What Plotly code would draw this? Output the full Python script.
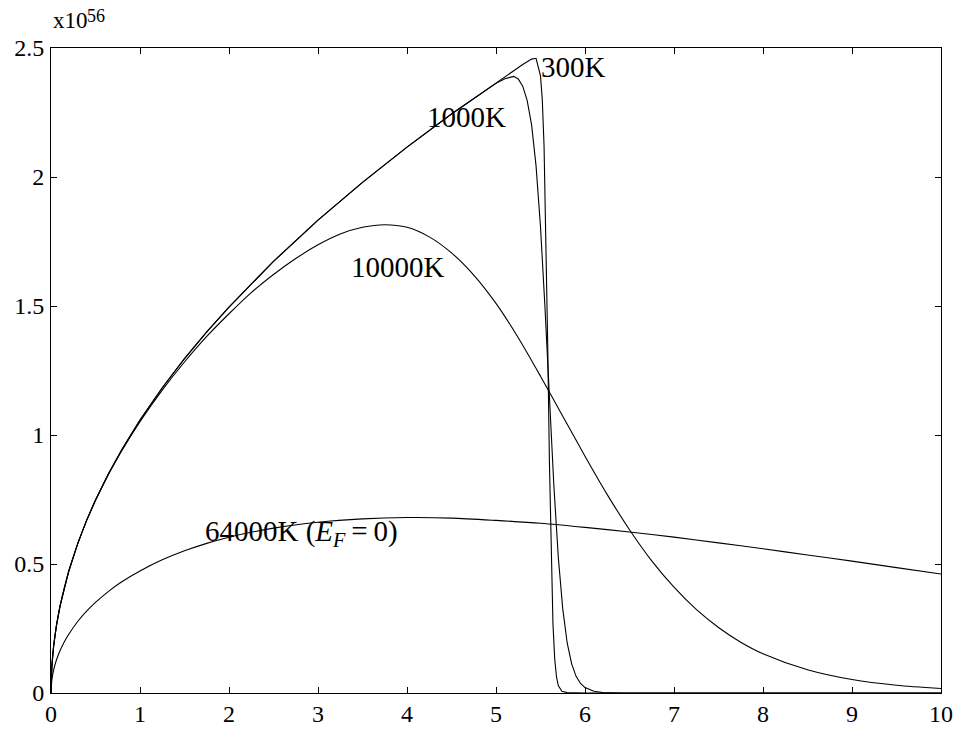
import plotly.graph_objects as go

# Energy samples (eV) for the smooth part of every curve
x_low = [0, 0.01, 0.03, 0.06, 0.1, 0.15, 0.2, 0.3, 0.4, 0.5, 0.65, 0.8,
         1.0, 1.25, 1.5, 1.75, 2.0, 2.5, 3.0, 3.5, 4.0, 4.5]
y_low = [0, 0.106, 0.183, 0.259, 0.335, 0.410, 0.473, 0.579, 0.669, 0.748, 0.853, 0.946,
         1.058, 1.183, 1.296, 1.400, 1.496, 1.673, 1.833, 1.979, 2.116, 2.244]

# 300 K
x_300 = x_low + [5.0, 5.3, 5.4, 5.45, 5.5, 5.52, 5.54, 5.56, 5.58, 5.60, 5.62,
                 5.64, 5.66, 5.68, 5.70, 5.74, 5.8, 6.0, 10.0]
y_300 = y_low + [2.366, 2.436, 2.457, 2.460, 2.392, 2.300, 2.119, 1.808, 1.370, 0.899, 0.515,
                 0.267, 0.131, 0.062, 0.029, 0.0063, 0.0015, 0.0, 0.0]

# 1000 K
x_1000 = x_low + [5.0, 5.1, 5.2, 5.25, 5.3, 5.35, 5.4, 5.45, 5.5, 5.55, 5.6, 5.65,
                  5.7, 5.75, 5.8, 5.85, 5.9, 5.95, 6.0, 6.1, 6.2, 6.4, 7.0, 10.0]
y_1000 = y_low + [2.363, 2.381, 2.390, 2.380, 2.352, 2.297, 2.202, 2.043, 1.807, 1.496, 1.143, 0.805,
                  0.526, 0.326, 0.194, 0.113, 0.0647, 0.0368, 0.0208, 0.0066, 0.0021, 0.0002, 0.0, 0.0]

# 10000 K
x_10000 = [0, 0.01, 0.03, 0.06, 0.1, 0.15, 0.2, 0.3, 0.4, 0.5, 0.65, 0.8,
           1.0, 1.25, 1.5, 1.75, 2.0, 2.25, 2.5, 2.75, 3.0, 3.25, 3.5, 3.75, 4.0, 4.25,
           4.5, 4.75, 5.0, 5.25, 5.5, 5.75, 6.0, 6.25, 6.5, 6.75, 7.0, 7.25, 7.5,
           7.75, 8.0, 8.5, 9.0, 9.5, 10.0]
y_10000 = [0, 0.106, 0.183, 0.258, 0.334, 0.409, 0.472, 0.578, 0.668, 0.746, 0.850, 0.942,
           1.052, 1.174, 1.283, 1.382, 1.470, 1.552, 1.622, 1.684, 1.737, 1.779, 1.805, 1.815, 1.805, 1.768,
           1.706, 1.620, 1.510, 1.377, 1.228, 1.073, 0.918, 0.769, 0.633, 0.512, 0.410, 0.324, 0.254,
           0.197, 0.152, 0.090, 0.052, 0.030, 0.0176]

# 64000 K (E_F = 0)
x_64000 = [0, 0.01, 0.03, 0.06, 0.1, 0.15, 0.2, 0.3, 0.4, 0.5, 0.65, 0.8,
           1.0, 1.25, 1.5, 1.75, 2.0, 2.5, 3.0, 3.5, 4.0, 4.5, 5.0, 5.5, 6.0,
           6.5, 7.0, 7.5, 8.0, 8.5, 9.0, 9.5, 10.0]
y_64000 = [0, 0.052, 0.090, 0.127, 0.163, 0.199, 0.228, 0.277, 0.317, 0.351, 0.395, 0.432,
           0.473, 0.516, 0.551, 0.580, 0.604, 0.639, 0.662, 0.675, 0.680, 0.678, 0.669, 0.658, 0.642,
           0.624, 0.604, 0.582, 0.559, 0.535, 0.511, 0.486, 0.461]

# (x, y, line shape) per temperature
curves = [(x_300, y_300, "linear"), (x_1000, y_1000, "linear"),
          (x_10000, y_10000, "spline"), (x_64000, y_64000, "spline")]

x_ticks = [0, 1, 2, 3, 4, 5, 6, 7, 8, 9, 10]
y_ticks = [0, 0.5, 1, 1.5, 2, 2.5]
y_tick_text = ["0", "0.5", "1", "1.5", "2", "2.5"]

curve_labels = ["300K", "1000K", "10000K",
                "64000K (<i>E</i><sub><i>F</i></sub>&#8201;=&#8201;0)"]
label_x = [5.87, 4.67, 3.90, 2.81]
label_y = [2.428, 2.234, 1.652, 0.621]

serif = "Liberation Serif, Times New Roman, Times, serif"

fig = go.Figure()
for xs, ys, shape in curves:
    fig.add_trace(go.Scatter(x=xs, y=ys, mode="lines",
                             line=dict(color="black", width=1.1, shape=shape, smoothing=0.8),
                             showlegend=False, hoverinfo="skip"))

for txt, lx, ly in zip(curve_labels, label_x, label_y):
    fig.add_annotation(x=lx, y=ly, xref="x", yref="y", text=txt, showarrow=False,
                       font=dict(family=serif, size=29, color="black"))

# axis multiplier, drawn above the top-left corner
fig.add_annotation(x=0, y=1, xref="paper", yref="paper", xanchor="left", yanchor="bottom",
                   xshift=0, yshift=13, text="x10", showarrow=False,
                   font=dict(family=serif, size=23, color="black"))
fig.add_annotation(x=0, y=1, xref="paper", yref="paper", xanchor="left", yanchor="bottom",
                   xshift=34, yshift=20, text="56", showarrow=False,
                   font=dict(family=serif, size=18, color="black"))

axis_common = dict(showgrid=False, zeroline=False, showline=True, linecolor="black",
                   linewidth=1, mirror="allticks", ticks="inside", ticklen=6,
                   tickcolor="black", tickwidth=1,
                   tickfont=dict(family=serif, size=24, color="black"))

fig.update_xaxes(range=[0, 10], tickvals=x_ticks, ticktext=[str(t) for t in x_ticks],
                 ticklabelstandoff=-1, **axis_common)
fig.update_yaxes(range=[0, 2.5], tickvals=y_ticks, ticktext=y_tick_text,
                 ticklabelstandoff=1, **axis_common)

fig.update_layout(width=960, height=729, autosize=False,
                  margin=dict(l=51, r=19, t=48, b=36, autoexpand=False),
                  plot_bgcolor="white", paper_bgcolor="white")

fig.write_html("out.html")
